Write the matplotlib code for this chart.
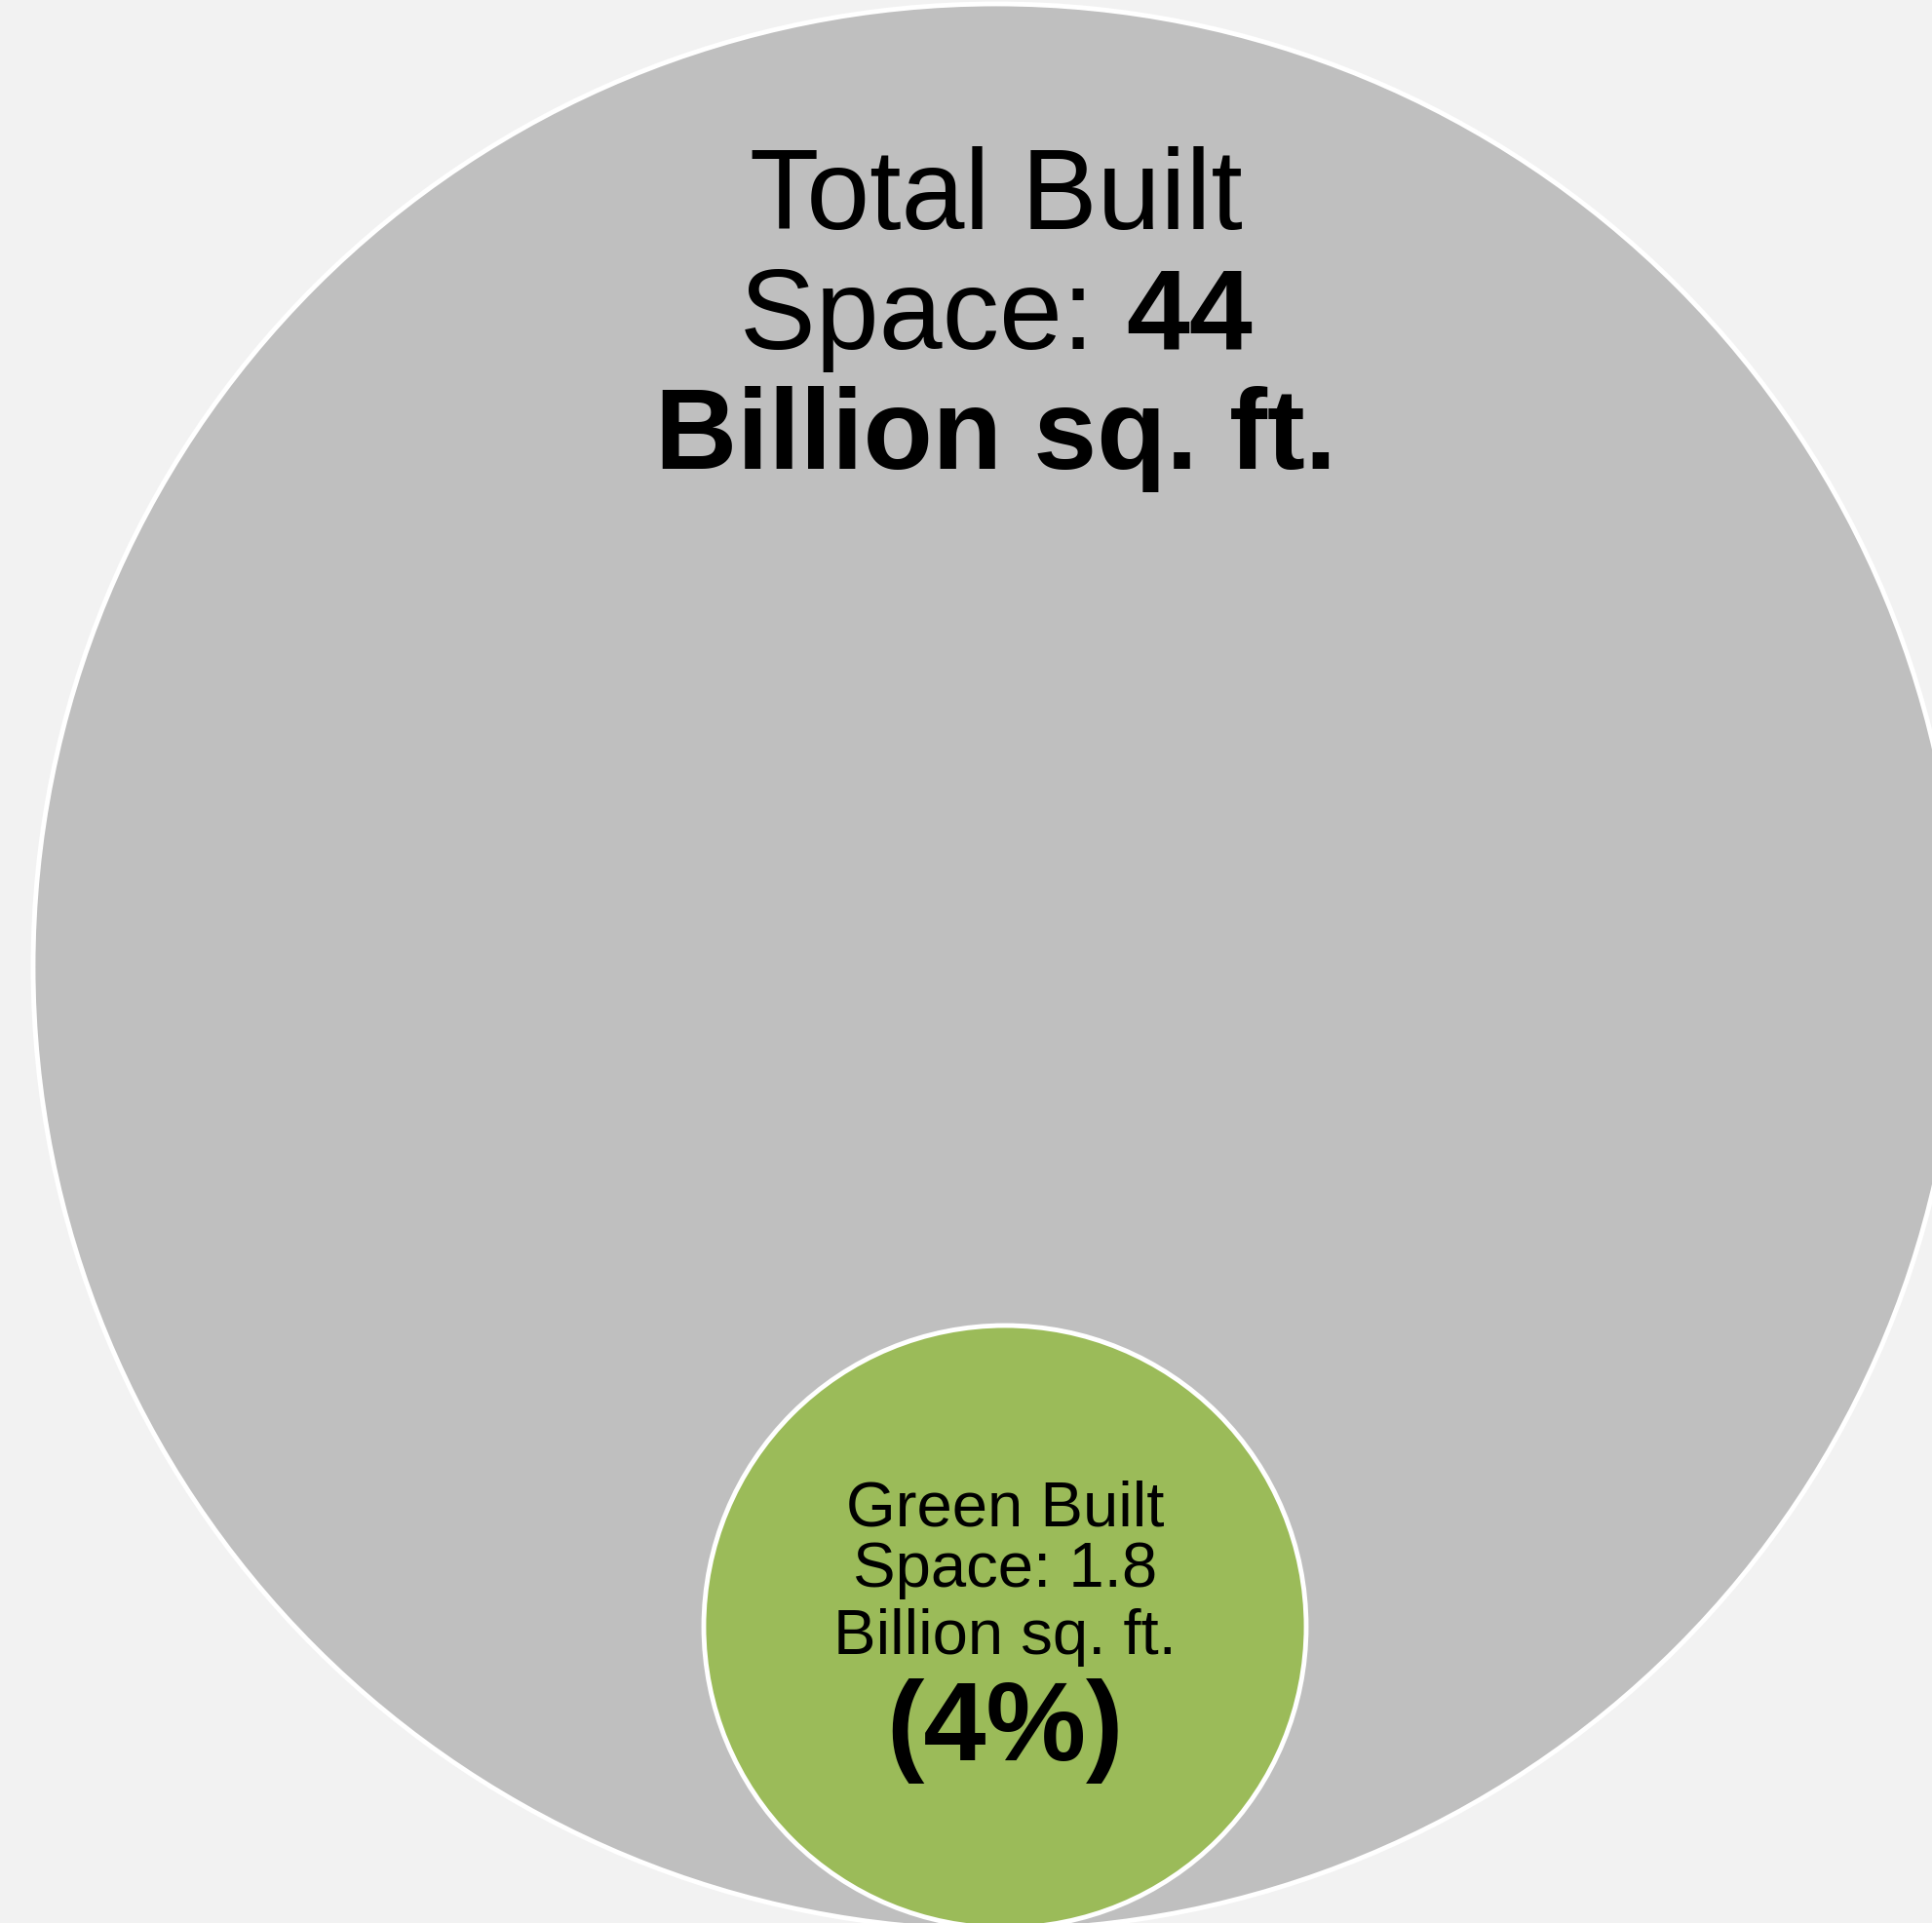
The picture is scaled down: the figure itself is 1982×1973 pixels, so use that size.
import matplotlib
matplotlib.use('Agg')
import matplotlib.pyplot as plt
from matplotlib.patches import Circle

# %% ------ data
total_space = 44        # billion sq. ft.
green_space = 1.8       # billion sq. ft.
green_share = 4         # percent
unit = 'Billion sq. ft.'

# %% ------ layout (pixels, full image)
W, H = 1983, 1974
big_c, big_r = (1022, 993), 988
small_c, small_r = (1031, 1670), 309

plt.rcParams['font.family'] = ['Liberation Sans', 'DejaVu Sans']

fig = plt.figure(figsize=(W / 100, H / 100), dpi=100, facecolor='#F2F2F2')
ax = fig.add_axes([0, 0, 1, 1])
ax.set_xlim(0, W)
ax.set_ylim(H, 0)
ax.set_aspect('equal')
ax.axis('off')

# circles
ax.add_patch(Circle(big_c, big_r, facecolor='#BFBFBF', edgecolor='white', lw=3.5))
ax.add_patch(Circle(small_c, small_r, facecolor='#9BBB59', edgecolor='white', lw=3.5))

# big circle label
ax.text(big_c[0], 235, 'Total Built', ha='center', va='baseline', fontsize=84)
fig.canvas.draw()
r = fig.canvas.get_renderer()
t1 = ax.text(0, 358, 'Space: ', ha='left', va='baseline', fontsize=84)
t2 = ax.text(0, 358, f'{total_space}', ha='left', va='baseline', fontsize=84,
             fontweight='bold')
w1 = t1.get_window_extent(r).width
w2 = t2.get_window_extent(r).width
# pixel widths == data widths (axes fill figure, 1 px per unit)
x0 = big_c[0] - (w1 + w2) / 2
t1.set_x(x0)
t2.set_x(x0 + w1)
ax.text(big_c[0], 481, unit, ha='center', va='baseline', fontsize=84,
        fontweight='bold')

# green circle label
ax.text(small_c[0], 1565, 'Green Built', ha='center', va='baseline', fontsize=47)
ax.text(small_c[0], 1628, f'Space: {green_space}', ha='center', va='baseline',
        fontsize=47)
ax.text(small_c[0], 1697, unit, ha='center', va='baseline', fontsize=47)
ax.text(small_c[0], 1806, f'({green_share}%)', ha='center', va='baseline',
        fontsize=83, fontweight='bold')

fig.savefig('out.png', dpi=100, facecolor=fig.get_facecolor())
